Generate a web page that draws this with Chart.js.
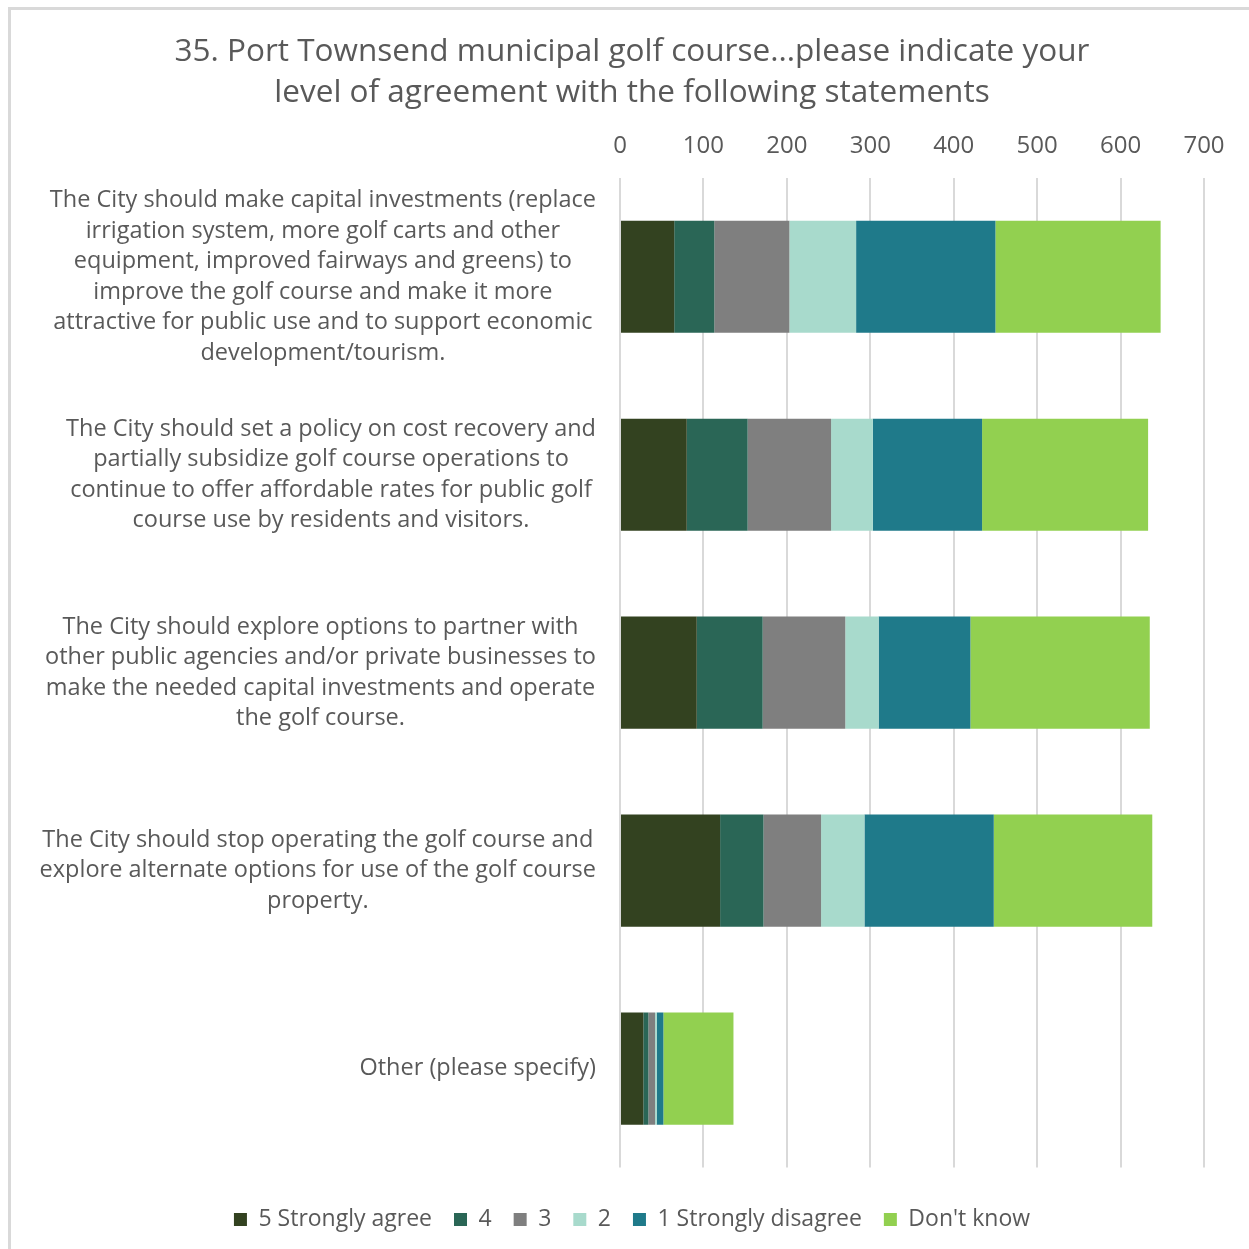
<!DOCTYPE html>
<html>
<head>
<meta charset="utf-8">
<script src="https://cdn.jsdelivr.net/npm/chart.js@4.4.1/dist/chart.umd.min.js"></script>
<style>
  html, body { margin: 0; padding: 0; background: #ffffff; }
  #wrap { position: absolute; left: 0; top: 0; width: 1249px; height: 1249px; overflow: hidden; }
  #frame { position: absolute; left: 8px; top: 7px; width: 1260px; height: 1260px; border-left: 3px solid #d9d9d9; border-top: 3px solid #d9d9d9; box-sizing: border-box; }
  canvas { position: absolute; left: 0; top: 0; }
</style>
</head>
<body>
<div id="wrap">
  <div id="frame"></div>
  <canvas id="c" width="1249" height="1249"></canvas>
</div>
<script>
const titleLines = [
  "35. Port Townsend municipal golf course...please indicate your",
  "level of agreement with the following statements"
];
const categories = [
  ["The City should make capital investments (replace",
   "irrigation system, more golf carts and other",
   "equipment, improved fairways and greens) to",
   "improve the golf course and make it more",
   "attractive for public use and to support economic",
   "development/tourism."],
  ["The City should set a policy on cost recovery and",
   "partially subsidize golf course operations to",
   "continue to offer affordable rates for public golf",
   "course use by residents and visitors."],
  ["The City should explore options to partner with",
   "other public agencies and/or private businesses to",
   "make the needed capital investments and operate",
   "the golf course."],
  ["The City should stop operating the golf course and",
   "explore alternate options for use of the golf course",
   "property."],
  ["Other (please specify)"]
];
const seriesNames = ["5 Strongly agree", "4", "3", "2", "1 Strongly disagree", "Don't know"];
const stronglyAgree    = [65, 80, 92, 120, 28];
const agree4           = [48, 73, 79, 52, 6];
const neutral3         = [90, 100, 99, 69, 8];
const disagree2        = [80, 50, 40, 52, 2];
const stronglyDisagree = [167, 131, 110, 155, 8];
const dontKnow         = [198, 199, 215, 190, 84];
const xTicks = [0, 100, 200, 300, 400, 500, 600, 700];

const colors = ["#334220", "#2a6656", "#7f7f7f", "#a8dacc", "#1f7a8a", "#92d050"];
const seriesValues = [stronglyAgree, agree4, neutral3, disagree2, stronglyDisagree, dontKnow];

const FONT = "'Open Sans', 'DejaVu Sans', sans-serif";
const TEXT = "#595959";

const labelPlugin = {
  id: 'wrappedLabels',
  afterDraw(chart) {
    const ctx = chart.ctx;
    const y = chart.scales.y;
    const right = chart.chartArea.left - 24;
    const lh = 30.5;
    ctx.save();
    ctx.font = "23.5px " + FONT;
    ctx.fillStyle = TEXT;
    ctx.textAlign = 'center';
    ctx.textBaseline = 'middle';
    categories.forEach((lines, i) => {
      const cy = y.getPixelForValue(i);
      const maxW = Math.max(...lines.map(l => ctx.measureText(l).width));
      const cx = right - maxW / 2;
      const top = cy - (lines.length - 1) * lh / 2;
      lines.forEach((l, k) => ctx.fillText(l, cx, top + k * lh));
    });
    ctx.restore();
  }
};

new Chart(document.getElementById('c'), {
  type: 'bar',
  data: {
    labels: categories.map(c => c.join(' ')),
    datasets: seriesNames.map((name, i) => ({
      label: name,
      data: seriesValues[i],
      backgroundColor: colors[i],
      borderWidth: 0,
      barPercentage: 0.566,
      categoryPercentage: 1.0
    }))
  },
  options: {
    indexAxis: 'y',
    responsive: false,
    animation: false,
    devicePixelRatio: 1,
    layout: { padding: { left: 60, right: 45, top: 0, bottom: 8 } },
    scales: {
      x: {
        position: 'top',
        stacked: true,
        min: 0, max: 700,
        afterBuildTicks: (s) => { s.ticks = xTicks.map(v => ({ value: v })); },
        ticks: { color: TEXT, font: { family: FONT, size: 24 }, padding: 17 },
        grid: { color: '#d9d9d9', lineWidth: 2, drawTicks: false },
        border: { display: false }
      },
      y: {
        stacked: true,
        afterFit: (s) => { s.width = 560; },
        ticks: { display: false },
        grid: { display: false, drawTicks: false },
        border: { display: false }
      }
    },
    plugins: {
      title: {
        display: true,
        text: titleLines,
        color: TEXT,
        font: { family: FONT, size: 31.5, weight: 'normal', lineHeight: 1.3 },
        padding: { top: 32, bottom: 1 }
      },
      legend: {
        position: 'bottom',
        title: { display: true, text: ' ', font: { size: 2 }, padding: { top: 8, bottom: 8 } },
        labels: {
          color: TEXT,
          font: { family: FONT, size: 23 },
          boxWidth: 13, boxHeight: 13,
          padding: 22
        }
      },
      tooltip: { enabled: false }
    }
  },
  plugins: [labelPlugin]
});
</script>
</body>
</html>
